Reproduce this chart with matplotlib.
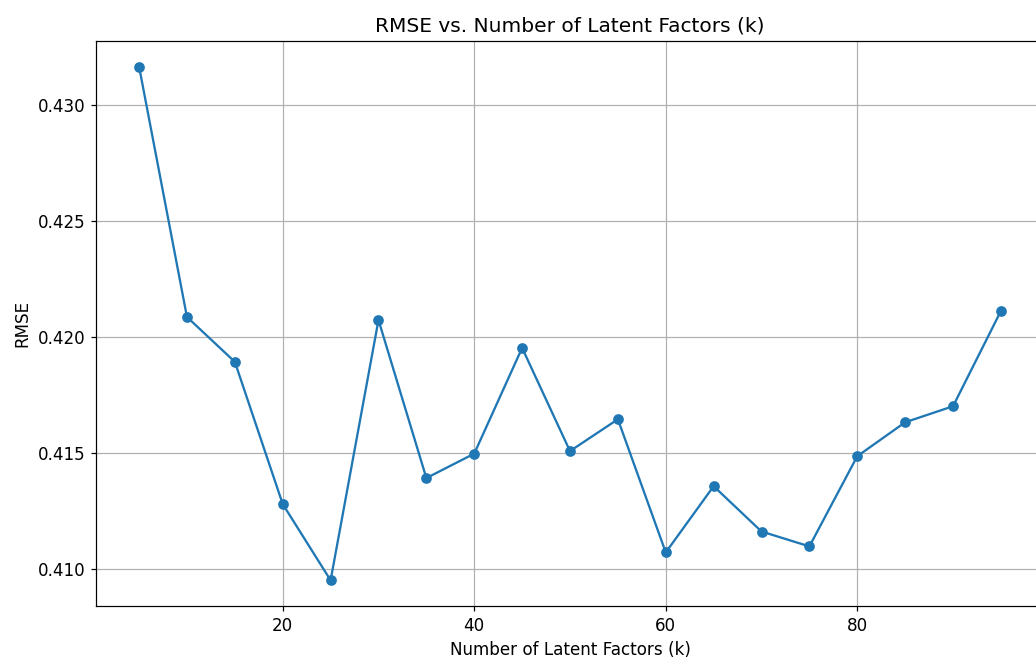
import matplotlib

matplotlib.use("Agg")
import matplotlib.pyplot as plt

# Latent factor sweep (k) and the RMSE.
K_VALUES = [5, 10, 15, 20, 25, 30, 35, 40, 45, 50,
            55, 60, 65, 70, 75, 80, 85, 90, 95]
RMSE = [0.43163, 0.42086, 0.41893, 0.41281, 0.40953, 0.42073, 0.41393,
        0.41498, 0.41953, 0.41509, 0.41646, 0.41073, 0.41358, 0.41163,
        0.41099, 0.41487, 0.41633, 0.41702, 0.42112]

W, H, DPI = 1036, 659, 110

plt.rcParams["font.size"] = 11

fig = plt.figure(figsize=(W / DPI, H / DPI), dpi=DPI)
# The reference is cropped on the right, so the axes run past the figure edge.
ax = fig.add_axes([96 / W, 1 - 606 / H, (1044 - 96) / W, (606 - 41) / H])

ax.plot(K_VALUES, RMSE, marker="o", color="#1f77b4")
ax.set_title("RMSE vs. Number of Latent Factors (k)")
ax.set_xlabel("Number of Latent Factors (k)")
ax.set_ylabel("RMSE")
ax.set_xticks([20, 40, 60, 80])
ax.set_yticks([0.410, 0.415, 0.420, 0.425, 0.430])
ax.grid(True)

fig.savefig("out.png", dpi=DPI)
plt.close(fig)
